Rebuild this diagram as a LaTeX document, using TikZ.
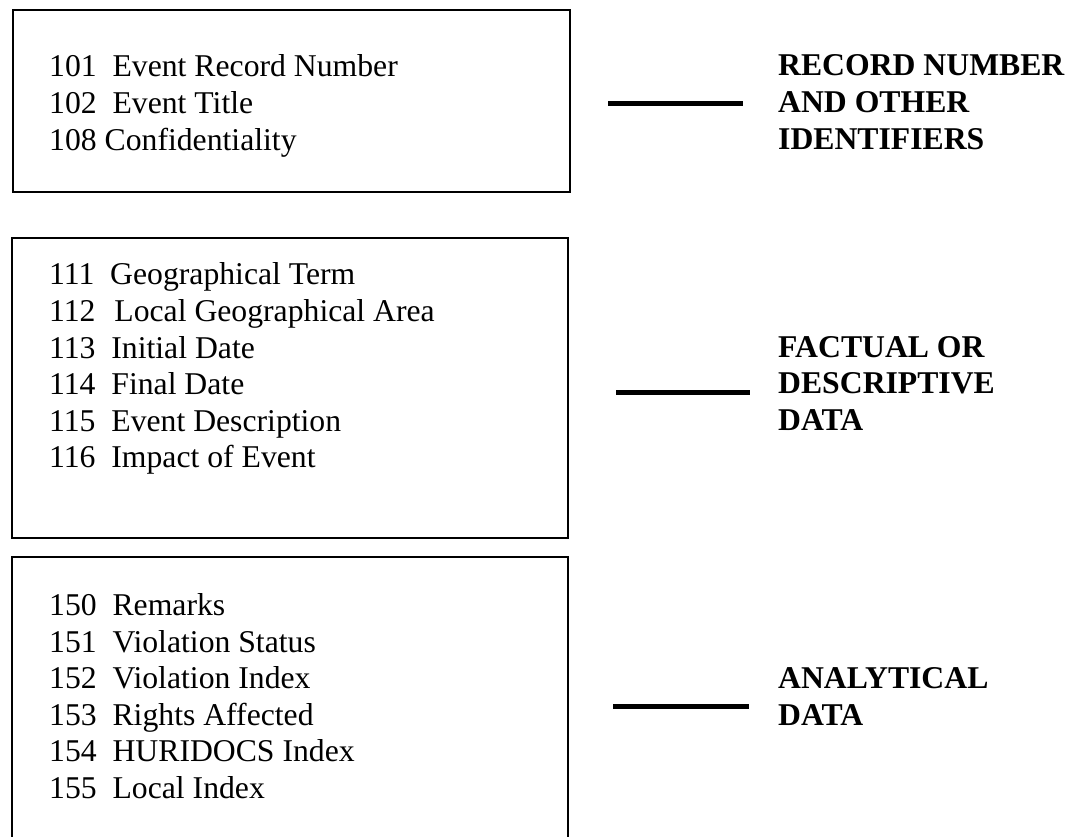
\documentclass[tikz,border=0pt]{standalone}
\usepackage{fontspec}
\setmainfont{Liberation Serif}
\begin{document}
\begin{tikzpicture}[x=1pt,y=-1pt,
  panel/.style={draw=black, line width=2.6pt},
  item/.style={anchor=base west, inner sep=0pt, font=\fontsize{31.7}{36.6}\selectfont},
  tag/.style={anchor=base west, inner sep=0pt, font=\fontsize{31.7}{36.6}\selectfont\bfseries},
  bar/.style={line width=5pt}]
\useasboundingbox (0,0) rectangle (1069,837);
\clip (0,0) rectangle (1069,837);

% frames
\draw[panel] (13,10) rectangle (570,192);
\draw[panel] (12,238) rectangle (568,538);
\draw[panel] (12,557) rectangle (568,860);

% identifiers
\node[item] (t101) at (49,77)  {101\ \ Event Record Number};
\node[item] (t102) at (49,114) {102\ \ Event Title};
\node[item] (t108) at (49,151) {108 Confidentiality};

% factual data
\node[item] (t111) at (49,285) {111\ \ Geographical Term};
\node[item] (t112) at (49,321) {112\ \ \hspace{3pt}Local Geographical Area};
\node[item] (t113) at (49,358) {113\ \ Initial Date};
\node[item] (t114) at (49,394) {114\ \ Final Date};
\node[item] (t115) at (49,431) {115\ \ Event Description};
\node[item] (t116) at (49,467) {116\ \ Impact of Event};

% analytical data
\node[item] (t150) at (49,615) {150\ \ Remarks};
\node[item] (t151) at (49,652) {151\ \ Violation Status};
\node[item] (t152) at (49,688) {152\ \ Violation Index};
\node[item] (t153) at (49,725) {153\ \ Rights Affected};
\node[item] (t154) at (49,761) {154\ \ HURIDOCS Index};
\node[item] (t155) at (49,798) {155\ \ Local Index};

% group labels
\node[tag] (g1a) at (778,76)  {RECORD NUMBER};
\node[tag] (g1b) at (778,113) {AND OTHER};
\node[tag] (g1c) at (778,150) {IDENTIFIERS};
\node[tag] (g2a) at (778,357) {FACTUAL OR};
\node[tag] (g2b) at (778,393) {DESCRIPTIVE};
\node[tag] (g2c) at (778,430) {DATA};
\node[tag] (g3a) at (778,688) {ANALYTICAL};
\node[tag] (g3b) at (778,725) {DATA};

% bars between frames and labels
\coordinate (l1a) at (608,104); \coordinate (l1b) at (743,104);
\coordinate (l2a) at (616,392); \coordinate (l2b) at (750,392);
\coordinate (l3a) at (613,706); \coordinate (l3b) at (749,706);
\draw[bar] (l1a) -- (l1b);
\draw[bar] (l2a) -- (l2b);
\draw[bar] (l3a) -- (l3b);
\end{tikzpicture}
\end{document}
